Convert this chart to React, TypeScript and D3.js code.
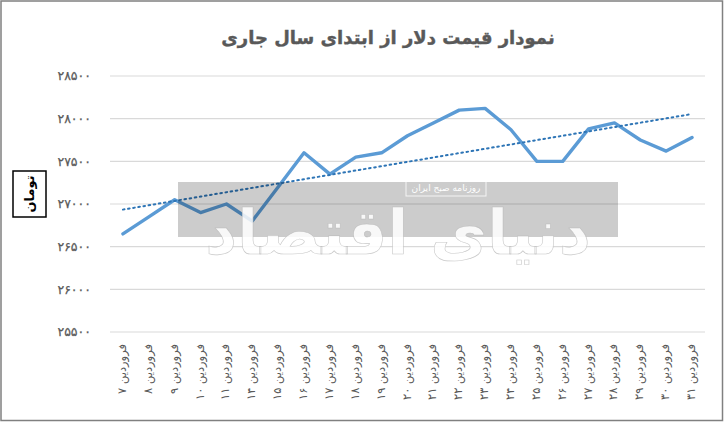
import React from "react";
import * as d3 from "d3";

const days = [7, 8, 9, 10, 11, 14, 15, 16, 17, 18, 19, 20, 21, 22, 23, 24, 25, 26, 27, 28, 29, 30, 31];
const prices = [26650, 26850, 27050, 26900, 27000, 26800, 27200, 27600, 27350, 27550, 27600, 27800, 27950, 28100, 28120, 27870, 27500, 27500, 27880, 27950, 27750, 27620, 27780];
const yTicks = [25500, 26000, 26500, 27000, 27500, 28000, 28500];
const title = "نمودار قیمت دلار از ابتدای سال جاری";
const yTitle = "تومان";
const monthName = "فروردین";

const fa = (n: number | string) => String(n).replace(/[0-9]/g, (d) => "۰۱۲۳۴۵۶۷۸۹"[+d]);

const W = 724, H = 422;
const M = { left: 110, right: 705, top: 76, bottom: 332 };

export default function App() {
  const x = d3.scaleBand<number>().domain(d3.range(days.length)).range([M.left, M.right]).padding(0);
  const cx = (i: number) => (x(i) as number) + x.bandwidth() / 2;
  const y = d3.scaleLinear().domain([25500, 28500]).range([M.bottom, M.top]);

  const line = d3.line<number>().x((_, i) => cx(i)).y((d) => y(d));

  // linear regression trendline
  const n = prices.length;
  const xs = d3.range(n);
  const mx = d3.mean(xs) as number;
  const my = d3.mean(prices) as number;
  const slope = d3.sum(xs, (i) => (i - mx) * (prices[i] - my)) / d3.sum(xs, (i) => (i - mx) ** 2);
  const icpt = my - slope * mx;
  const trend = xs.map((i) => icpt + slope * i);

  const font = "'DejaVu Sans', sans-serif";

  return (
    <svg width={W} height={H} style={{ position: "absolute", left: 0, top: 0, background: "#fff" }} fontFamily={font}>
      <rect x={0} y={0} width={W} height={H} fill="#fff" />
      <rect x={1} y={1} width={W - 2.5} height={H - 2.5} fill="none" stroke="#808080" strokeWidth={1.5} />
      <text x={388} y={44} textAnchor="middle" fontSize={18} fontWeight="bold" fill="#595959" stroke="#595959" strokeWidth={0.4}>{title}</text>

      {yTicks.map((t) => (
        <g key={t}>
          <line x1={M.left} x2={M.right} y1={y(t)} y2={y(t)} stroke="#d9d9d9" strokeWidth={1.2} />
          <text x={91} y={y(t)} dy="0.35em" textAnchor="end" fontSize={12.5} fill="#595959" stroke="#595959" strokeWidth={0.25}>{fa(t)}</text>
        </g>
      ))}

      <rect x={13} y={171} width={33} height={46} fill="#fff" stroke="#000" strokeWidth={1.5} />
      <text transform={`translate(29.5,194) rotate(-90)`} dy="0.35em" textAnchor="middle" fontSize={13} fontWeight="bold" fill="#000">{yTitle}</text>

      {days.map((d, i) => (
        <text key={d} transform={`translate(${cx(i) - 1},344) rotate(-90)`} dy="0.35em" textAnchor="end" fontSize={11.5} fill="#595959">
          {`${monthName} ${fa(d)}`}
        </text>
      ))}

      <path d={line(prices) as string} fill="none" stroke="#5b9bd5" strokeWidth={3.4} strokeLinejoin="round" strokeLinecap="round" />
      <path d={line(trend) as string} fill="none" stroke="#2e75b6" strokeWidth={2} strokeDasharray="1.6 3.6" strokeLinecap="round" />

      {/* watermark */}
      <rect x={178} y={182} width={440} height={55} fill="#000" fillOpacity={0.2} />
      <text x={398} y={254} textAnchor="middle" fontSize={62} fontWeight="bold" fill="#fff" fillOpacity={0.85} stroke="#b0b0b0" strokeWidth={0.6} strokeOpacity={0.7}>دنیای اقتصاد</text>
      <rect x={406} y={180} width={80} height={16} fill="none" stroke="#fff" strokeOpacity={0.8} strokeWidth={1} />
      <text x={446} y={188} dy="0.35em" textAnchor="middle" fontSize={9} fill="#fff">روزنامه صبح ایران</text>
    </svg>
  );
}
